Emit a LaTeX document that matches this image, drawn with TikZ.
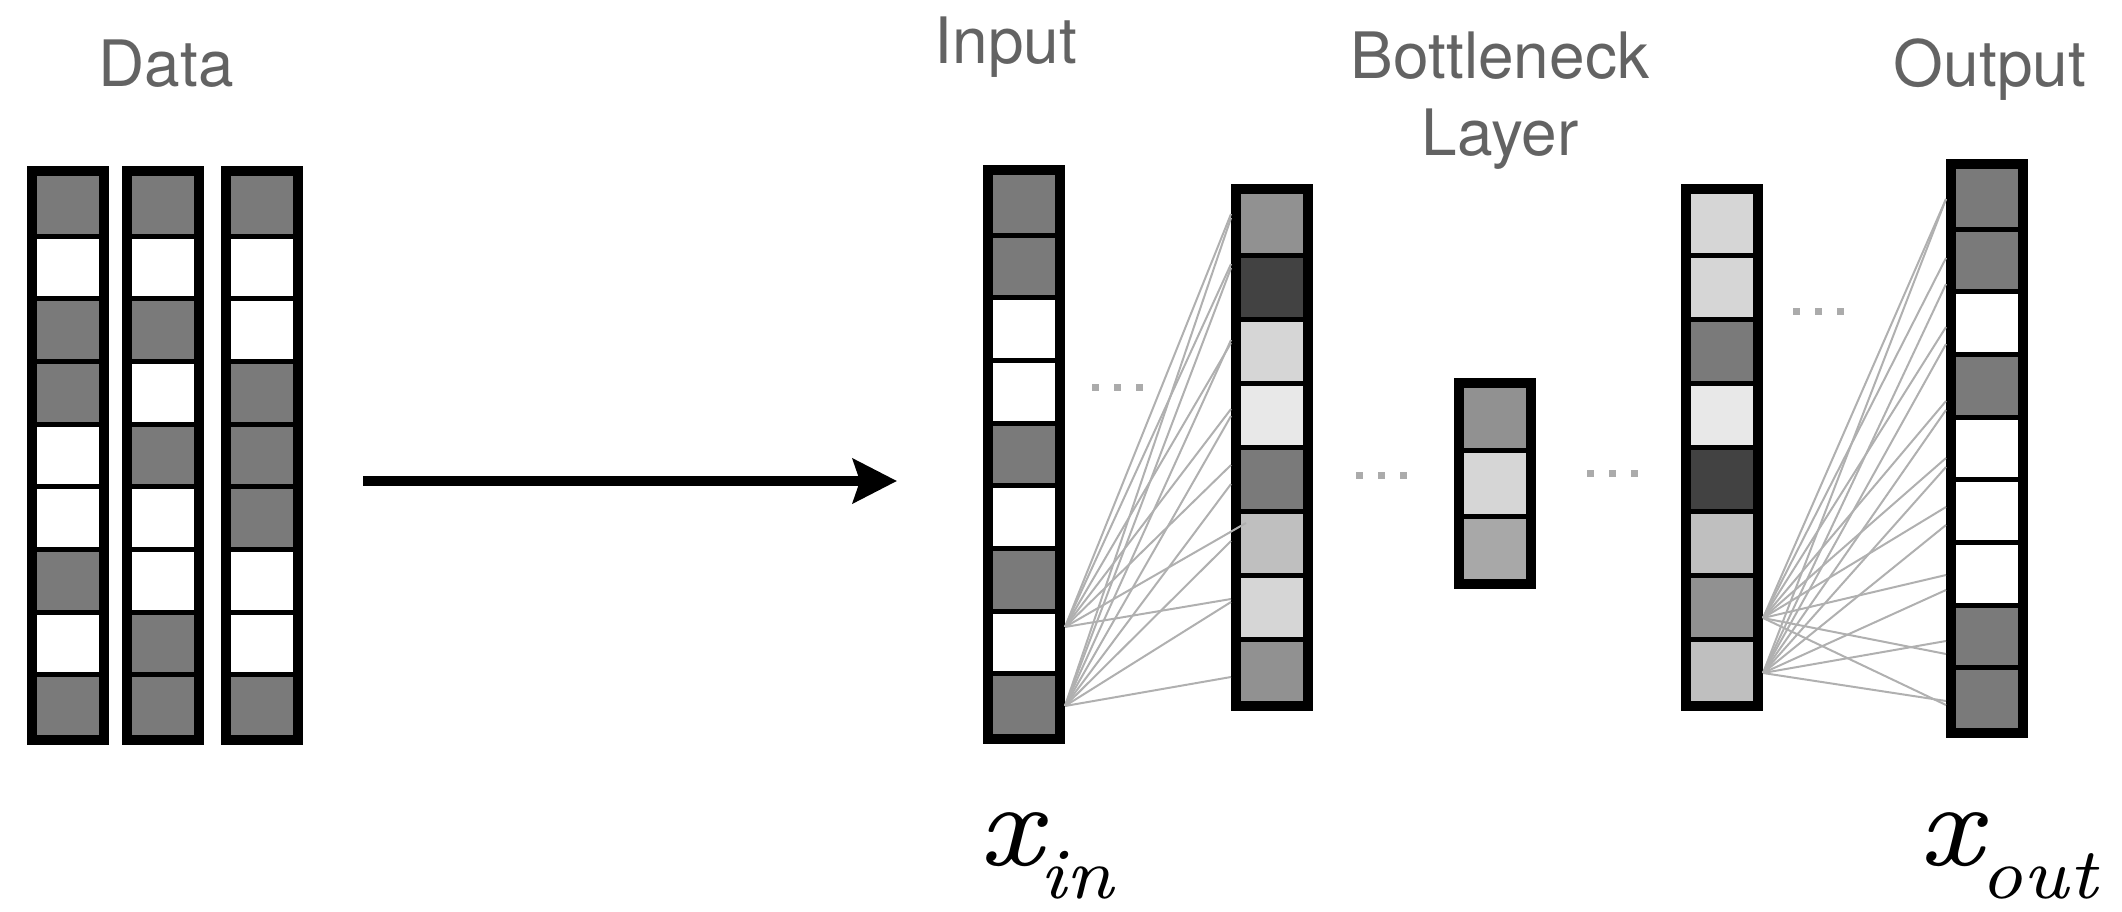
\documentclass[tikz,border=0pt]{standalone}
\usepackage{fontspec}
\setmainfont{TeX Gyre Heros}
\newfontfamily\symfont{lmroman7-italic.otf}
\usepackage{xcolor}
\usepackage{tikz}
\usetikzlibrary{arrows.meta}

\colorlet{labelgray}{black!61}
\colorlet{wiregray}{black!31}
\colorlet{dotgray}{black!33}
\colorlet{cDark}{black!74}
\colorlet{cMid}{black!52}
\colorlet{cGrey}{black!43}
\colorlet{cSilver}{black!34}
\colorlet{cLight}{black!25}
\colorlet{cPale}{black!16}
\colorlet{cMist}{black!9}

% column of cells: name, left, top, height, number of cells, cell colours
\newcommand{\vlayer}[6]{%
  \node[colbox, minimum height=#4] (#1) at (#2,#3) {};
  \foreach \c [count=\i] in {#6}
    \fill[\c] ({#2+10},{#3+10+(\i-1)*(#4-15)/#5}) rectangle ++(62,{(#4-15)/#5-5});
}
\newcommand{\gapdots}[2]{%
  \foreach \d in {0,22,44}
    \fill[dotgray] ({#1+\d},{#2-3.5}) rectangle ++(7,7);
}
\newcommand{\subsz}{\fontsize{72}{72}\selectfont}

\begin{document}
\begin{tikzpicture}[x=1pt,y=-1pt,
    colbox/.style={fill=black, inner sep=0, outer sep=0, minimum width=82, anchor=north west},
    lbl/.style={text=labelgray, font=\fontsize{64}{77}\selectfont, inner sep=0, anchor=base},
    sym/.style={font=\symfont\fontsize{120}{120}\selectfont, inner sep=0, anchor=base west},
    wire/.style={draw=wiregray, line width=2pt},
    bigarrow/.style={line width=10pt, -{Stealth[length=44pt, width=44pt, inset=7pt]}}]
        \useasboundingbox (0,0) rectangle (2122,912);
        \node[lbl] (datalbl) at (166,87) {Data};
        \node[lbl] (inlbl) at (1006,64) {Input};
        \node[lbl, align=center] (necklbl) at (1500,156) {Bottleneck\\Layer};
        \node[lbl] (outlbl) at (1990,87) {Output};

        \vlayer{data1}{27}{166}{579}{9}{cMid,white,cMid,cMid,white,white,cMid,white,cMid}
        \vlayer{data2}{122}{166}{579}{9}{cMid,white,cMid,white,cMid,white,white,cMid,cMid}
        \vlayer{data3}{221}{166}{579}{9}{cMid,white,white,cMid,cMid,cMid,white,white,cMid}
        \vlayer{inl}{983}{165}{579}{9}{cMid,cMid,white,white,cMid,white,cMid,white,cMid}
        \vlayer{encl}{1231}{184}{527}{8}{cGrey,cDark,cPale,cMist,cMid,cLight,cPale,cGrey}
        \vlayer{neck}{1454}{378}{211}{3}{cGrey,cPale,cSilver}
        \vlayer{decl}{1681}{184}{527}{8}{cPale,cPale,cMid,cMist,cDark,cLight,cGrey,cLight}
        \vlayer{outl}{1946}{159}{579}{9}{cMid,cMid,white,cMid,white,white,white,cMid,cMid}

        \draw[bigarrow, shorten <=60pt, shorten >=86pt] (data3.east |- 0,481) -- (inl.west |- 0,481);

        \coordinate (inA) at (inl.east |- 0,627);
        \coordinate (inB) at (inl.east |- 0,706);
        \foreach \t in {214,264,343,409,465,599}
            \draw[wire] (inA) -- (encl.west |- 0,\t);
        \foreach \t in {218,268,340,416,484,541,602,677}
            \draw[wire] (inB) -- (encl.west |- 0,\t);
        \coordinate (overA) at (encl.west |- 0,523);
        \draw[wire] (inA) -- ([xshift=15pt]overA);

        \coordinate (decA) at (decl.east |- 0,618);
        \coordinate (decB) at (decl.east |- 0,673);
        \foreach \t in {199,258,327,401,458,507,575,654,705}
            \draw[wire] (decA) -- (outl.west |- 0,\t);
        \foreach \t in {199,284,344,410,467,525,590,641,701}
            \draw[wire] (decB) -- (outl.west |- 0,\t);

        \gapdots{1092}{387}
        \gapdots{1356}{475}
        \gapdots{1587}{473}
        \gapdots{1793}{311}

        \node[sym] (xinlbl) at (978,865) {x\kern-3pt\raisebox{-33pt}{\subsz in}};
        \node[sym] (xoutlbl) at (1918,865) {x\kern-3pt\raisebox{-33pt}{\subsz out}};
\end{tikzpicture}
\end{document}
